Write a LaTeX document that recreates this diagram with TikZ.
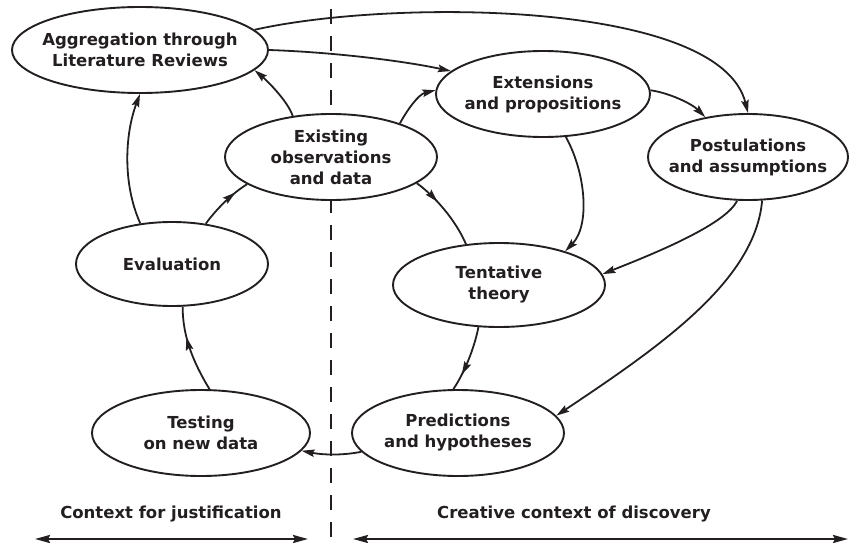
\documentclass[tikz,border=0pt]{standalone}
\usepackage{fontspec}
\setmainfont{DejaVu Sans}
\usetikzlibrary{shapes.geometric,arrows.meta,decorations.markings}
\definecolor{ink}{RGB}{35,31,32}
\begin{document}
\begin{tikzpicture}[x=1pt,y=-1pt,
  ell/.style 2 args={draw=ink, fill=white, ellipse, line width=1.9pt,
    minimum width=#1pt, minimum height=#2pt, inner sep=0pt},
  txt/.style={text=ink, font=\bfseries\fontsize{16.5}{21}\selectfont, align=center, inner sep=0pt},
  tip/.style={Stealth[length=13pt,width=7.5pt,inset=2pt]},
  conn/.style={draw=ink, line width=1.8pt, -{Stealth[length=13pt,width=7.5pt,inset=2pt]}},
  midarr/.style={draw=ink, line width=1.8pt, postaction={decorate},
    decoration={markings, mark=at position #1 with {\arrow{Stealth[length=13pt,width=7.5pt,inset=2pt]}}}},
  divider/.style={draw=ink, line width=1.8pt, dash pattern=on 15pt off 12pt, dash phase=-9pt},
  span/.style={draw=ink, line width=2.3pt, {Stealth[length=15pt,width=8pt,inset=2pt]}-{Stealth[length=15pt,width=8pt,inset=2pt]}}
]
\useasboundingbox (0,0) rectangle (849,543);

% divider
\coordinate (dtop) at (331,0);
\coordinate (dbot) at (331,543);
\draw[divider] (dtop) -- (dbot);

% nodes
\node[ell={256}{86}, label={[txt]center:{Aggregation through\\Literature Reviews}}] (agg) at (140,50) {};
\node[ell={212}{86}, label={[txt]center:{Existing\\observations\\and data}}] (exist) at (331,157) {};
\node[ell={214}{86}, label={[txt]center:{Extensions\\and propositions}}] (ext) at (543,94) {};
\node[ell={200}{86}, label={[txt]center:{Postulations\\and assumptions}}] (post) at (748,157) {};
\node[ell={192}{84}, label={[txt]center:{Evaluation}}] (eval) at (172,264) {};
\node[ell={212}{84}, label={[txt]center:{Tentative\\theory}}] (tent) at (499,285) {};
\node[ell={218}{86}, label={[txt]center:{Testing\\on new data}}] (test) at (201,433) {};
\node[ell={212}{86}, label={[txt]center:{Predictions\\and hypotheses}}] (pred) at (458,433) {};

% connectors
\draw[conn] (agg.10.5) .. controls +(137,-31) and +(-28,-113) .. (post.north);
\draw[conn] (agg.east) .. controls +(60,2) and +(-52,-11) .. (ext.166);
\draw[conn] (exist.133.5) .. controls +(-5,-15) and +(12,10) .. (agg.-10);
\draw[conn] (eval.128) .. controls +(-18,-40) and +(-15,40) .. (agg.south);
\draw[midarr=0.75] (eval.50) .. controls +(10,-14) and +(-15,9) .. (exist.198.4);
\draw[conn] (exist.26.9) .. controls +(7,-13) and +(-17,4) .. (ext.178);
\draw[midarr=0.35] (exist.-17.8) .. controls +(17,12) and +(-10,-24) .. (tent.129.7);
\draw[conn] (ext.2) .. controls +(20,3) and +(-13,-13) .. (post.137.8);
\draw[conn] (ext.-62.4) .. controls +(20,36) and +(25,-26) .. (tent.27);
\draw[conn] (post.-104.3) .. controls +(-12,25) and +(45,-18) .. (tent.6.5);
\draw[conn] (post.-72) .. controls +(-7,80) and +(105,-70) .. (pred.10);
\draw[midarr=0.75] (tent.-116.6) .. controls +(-4,20) and +(12,-18) .. (pred.96.6);
\draw[midarr=0.65] (test.79) .. controls +(-17,-28) and +(0,29) .. (eval.-76.6);
\draw[conn] (pred.191.2) .. controls +(-20,4) and +(20,4) .. (test.-10.7);

% bottom labels and spans
\node[txt, anchor=base] (lj) at (171,518) {Context for justification};
\node[txt, anchor=base] (lc) at (574,518) {Creative context of discovery};
\coordinate (la) at (35,539);
\coordinate (lb) at (308,539);
\coordinate (ra) at (353,539);
\coordinate (rb) at (848,539);
\draw[span] (la) -- (lb);
\draw[span] (ra) -- (rb);
\end{tikzpicture}
\end{document}
